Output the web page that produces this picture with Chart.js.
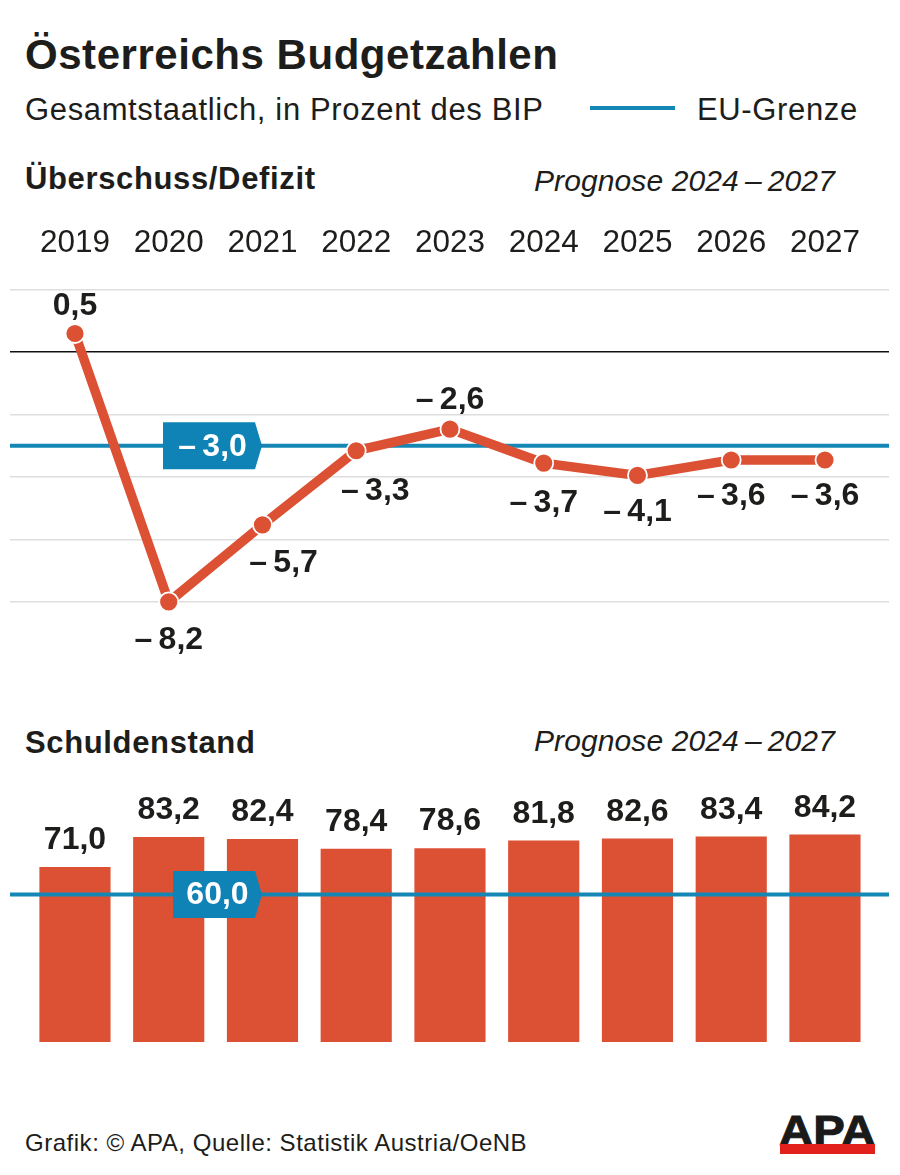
<!DOCTYPE html>
<html lang="de"><head><meta charset="utf-8">
<script src="https://cdn.jsdelivr.net/npm/chart.js@4"></script>
<style>
html,body{margin:0;padding:0;background:#fff;width:900px;height:1175px;overflow:hidden}
body{position:relative;font-family:"Liberation Sans",Arial,sans-serif;color:#1d1d1b}
.t{position:absolute;white-space:nowrap;line-height:40px;height:40px}
.s{font-size:31px;letter-spacing:.64px}
.p{font-size:30px;font-style:italic;letter-spacing:.1px}
canvas{position:absolute;left:0}
</style></head><body>
<div class="t" style="left:25px;top:35px;font-size:42px;font-weight:bold;letter-spacing:.54px">Österreichs Budgetzahlen</div>
<div class="t s" style="left:25px;top:90px">Gesamtstaatlich, in Prozent des BIP</div>
<div style="position:absolute;left:590px;top:106px;width:85px;height:4px;background:#1487b5"></div>
<div class="t s" style="left:697px;top:90px">EU-Grenze</div>
<div class="t s" style="left:25px;top:159px;font-weight:bold">Überschuss/Defizit</div>
<div class="t p" style="left:534px;top:161px">Prognose 2024&#8201;–&#8201;2027</div>
<div class="t s" style="left:25px;top:723px;font-weight:bold">Schuldenstand</div>
<div class="t p" style="left:534px;top:721px">Prognose 2024&#8201;–&#8201;2027</div>
<div class="t" style="left:25px;top:1123px;font-size:24px;letter-spacing:.52px">Grafik: © APA, Quelle: Statistik Austria/OeNB</div>
<div class="t" style="left:779px;top:1108px;font-size:43px;line-height:45px;height:45px;font-weight:bold;color:#1a1a1a;-webkit-text-stroke:1px #1a1a1a;transform-origin:left top;transform:scaleX(1.1)">APA</div>
<div style="position:absolute;left:780px;top:1144px;width:95px;height:10px;background:#e2211c"></div>
<canvas id="lineChart" width="900" height="455" style="top:215px"></canvas>
<canvas id="barChart" width="900" height="262" style="top:780px"></canvas>
<script>
const years = ['2019','2020','2021','2022','2023','2024','2025','2026','2027'];
const balance = [0.5,-8.2,-5.7,-3.3,-2.6,-3.7,-4.1,-3.6,-3.6];
const debt = [71.0,83.2,82.4,78.4,78.6,81.8,82.6,83.4,84.2];
const balanceLimit = -3.0;
const debtLimit = 60.0;
const gridTicks = [2,0,-2,-4,-6,-8];

const RED='#dc5034', BLUE='#1487b5', INK='#1d1d1b';
const xMin=-0.693, xMax=8.683;
const fmt=v=>(v<0?'\u2013\u2009':'')+Math.abs(v).toFixed(1).replace('.',',');
const labelFont='bold 32px "Liberation Sans", Arial, sans-serif';
const xy=(arr)=>arr.map((y,x)=>({x,y}));
const span=(y)=>[{x:xMin,y},{x:xMax,y}];

function badge(ctx,left,right,yPx,h,text){
  ctx.save();
  ctx.fillStyle='#0f83b6';
  ctx.beginPath();
  ctx.moveTo(left,yPx-h/2);ctx.lineTo(right-7,yPx-h/2);ctx.lineTo(right,yPx);
  ctx.lineTo(right-7,yPx+h/2);ctx.lineTo(left,yPx+h/2);ctx.closePath();ctx.fill();
  ctx.fillStyle='#fff';ctx.font=labelFont;ctx.textAlign='center';ctx.textBaseline='middle';
  ctx.fillText(text,(left+right)/2,yPx+1);
  ctx.restore();
}
function drawLabel(ctx,text,x,y){
  ctx.save();ctx.fillStyle=INK;ctx.font=labelFont;ctx.textAlign='center';ctx.textBaseline='middle';
  ctx.fillText(text,x,y);ctx.restore();
}
const lineOffsets=[[0,-27],[0,38],[21,38],[19,40],[0,-29],[0,40],[0,37],[0,36],[0,36]];
const linePlugin={id:'lineLabels',afterDraw(c){
  const pts=c.getDatasetMeta(1).data;
  pts.forEach((p,i)=>drawLabel(c.ctx,fmt(balance[i]),p.x+lineOffsets[i][0],p.y+lineOffsets[i][1]));
  badge(c.ctx,163,262,c.scales.y.getPixelForValue(balanceLimit),47,fmt(balanceLimit));
}};
const barPlugin={id:'barLabels',afterDraw(c){
  const bars=c.getDatasetMeta(1).data;
  bars.forEach((b,i)=>drawLabel(c.ctx,fmt(debt[i]),b.x,b.y-27));
  badge(c.ctx,173,262,c.scales.y.getPixelForValue(debtLimit),47,fmt(debtLimit));
}};

new Chart(document.getElementById('lineChart'),{
  type:'line',
  data:{datasets:[
    {data:span(balanceLimit),yAxisID:'y',borderColor:BLUE,borderWidth:4,pointRadius:0,order:2},
    {data:xy(balance),yAxisID:'yLine',borderColor:RED,borderWidth:9.5,pointRadius:9.5,pointBackgroundColor:RED,
     pointBorderColor:'#fff',pointBorderWidth:1.8,borderCapStyle:'butt',tension:0,order:1,clip:false}
  ]},
  options:{responsive:false,animation:false,events:[],
    layout:{autoPadding:false,padding:{left:10,right:11,top:0,bottom:30}},
    plugins:{legend:{display:false},tooltip:{enabled:false}},
    scales:{
      x:{type:'linear',position:'top',min:xMin,max:xMax,
        afterFit:s=>{s.height=65},
        grid:{display:false},border:{display:false},
        afterBuildTicks:s=>{s.ticks=years.map((_,value)=>({value}))},
        ticks:{padding:10,maxRotation:0,autoSkip:false,color:INK,font:{size:31.5,family:'"Liberation Sans", Arial, sans-serif'},
          callback:v=>years[v]}},
      y:{min:-9.216,max:2.304,
        afterBuildTicks:s=>{s.ticks=gridTicks.map(value=>({value}))},
        afterFit:s=>{s.width=0},
        border:{display:false},ticks:{display:false},
        grid:{drawTicks:false,color:c=>c.tick.value===0?'#111':'#dedede',lineWidth:1.5}},
      yLine:{display:false,min:-9.433,max:2.233}
    }},
  plugins:[linePlugin]
});

new Chart(document.getElementById('barChart'),{
  data:{datasets:[
    {type:'line',data:span(debtLimit),borderColor:BLUE,borderWidth:4,pointRadius:0,order:1},
    {type:'bar',data:xy(debt),backgroundColor:RED,barThickness:70.5,borderWidth:0,order:2}
  ]},
  options:{responsive:false,animation:false,events:[],
    layout:{autoPadding:false,padding:{left:10,right:11,top:0,bottom:0}},
    plugins:{legend:{display:false},tooltip:{enabled:false}},
    scales:{
      x:{type:'linear',display:false,offset:false,min:xMin,max:xMax},
      y:{display:false,min:0,max:106.5}
    }},
  plugins:[barPlugin]
});
</script>
</body></html>
